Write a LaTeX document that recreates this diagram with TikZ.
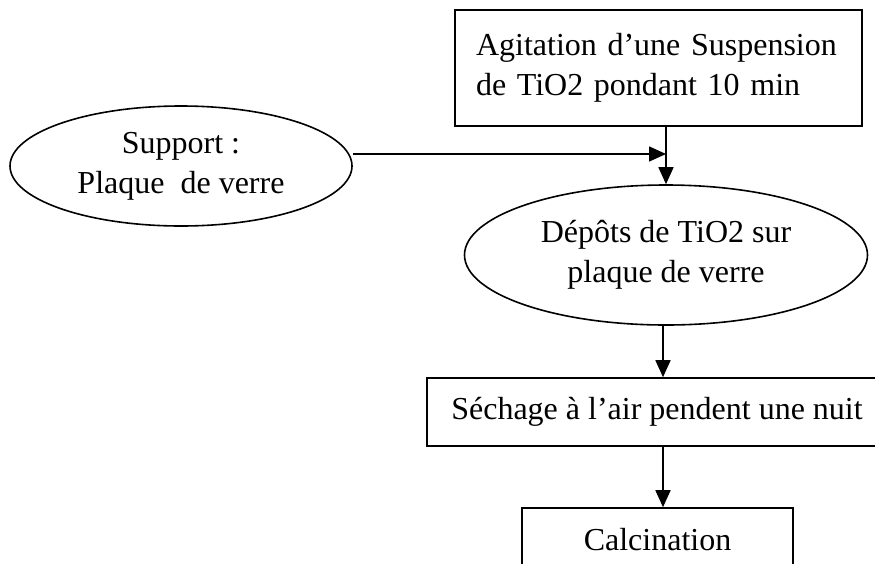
\documentclass[tikz,border=0pt]{standalone}
\usepackage{fontspec}
\setmainfont{Liberation Serif}
\usetikzlibrary{shapes.geometric,arrows.meta}
\tikzset{
  every node/.style={font=\fontsize{32}{40}\selectfont, line width=1.6pt},
  boxnode/.style={draw, rectangle, inner sep=0pt, align=center},
  ellnode/.style={draw, ellipse, inner sep=0pt, align=center},
  arr/.style={line width=1.6pt, -{Triangle[length=17pt,width=15pt]}},
  plain/.style={line width=1.6pt}
}
\begin{document}
\begin{tikzpicture}[x=1pt,y=-1pt]
\useasboundingbox (0,0) rectangle (875,563);
\clip (0,0) rectangle (875,563);
\node[boxnode, align=left, text width=365pt, inner xsep=21pt, minimum height=116pt] (agit) at (658.5,68) {Agitation d’une Suspension\\de TiO2 pondant 10 min};
\node[ellnode, minimum width=342pt, minimum height=120pt] (sup) at (181,166) {Support :\\Plaque\ \ de verre};
\node[ellnode, minimum width=403pt, minimum height=140pt] (dep) at (666,255) {Dépôts de TiO2 sur\\plaque de verre};
\node[boxnode, minimum width=460pt, minimum height=68pt] (sech) at (657,412) {Séchage à l’air pendent une nuit};
\node[boxnode, minimum width=271pt, minimum height=64pt] (calc) at (657.5,540) {Calcination};
\coordinate (j) at (666,154);
\draw[arr] (agit.south -| dep.north) -- (dep.north);
\draw[arr] (sup.east |- j) -- (j);
\coordinate (ax) at (663,0);
\draw[arr] (dep.south -| ax) -- (sech.north -| ax);
\draw[arr] (sech.south -| ax) -- (calc.north -| ax);
\end{tikzpicture}
\end{document}
